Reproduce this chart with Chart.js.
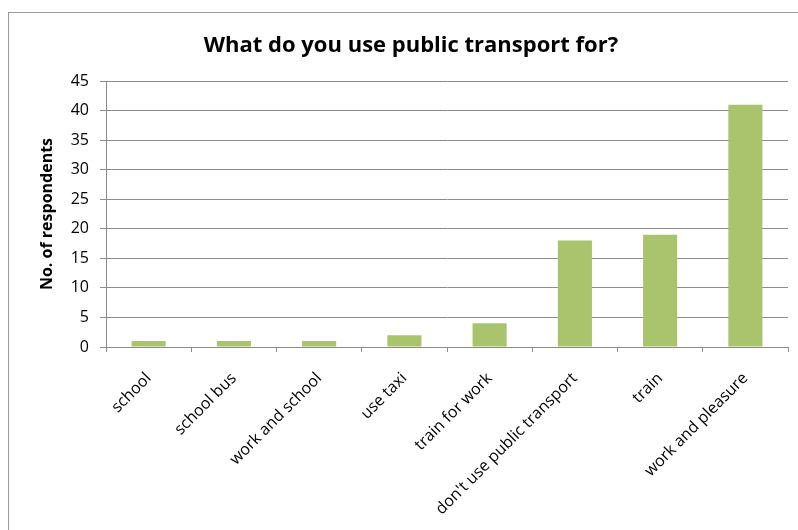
<!DOCTYPE html>
<html>
<head>
<meta charset="utf-8">
<script src="https://cdn.jsdelivr.net/npm/chart.js@4"></script>
<style>
  html, body { margin: 0; padding: 0; background: #fff; }
  #wrap { position: relative; width: 798px; height: 530px; overflow: hidden; }
  #frame { position: absolute; left: 8px; top: 12px; width: 800px; height: 540px; border: 1px solid #9a9a9a; box-sizing: border-box; }
  canvas { position: absolute; left: 0; top: 0; }
</style>
</head>
<body>
<div id="wrap">
  <div id="frame"></div>
  <canvas id="chart" width="798" height="530"></canvas>
</div>
<script>
// Survey answers: what respondents use public transport for
const categories = [
  'school', 'school bus', 'work and school', 'use taxi',
  'train for work', "don't use public transport", 'train', 'work and pleasure'
];
const respondents = [1, 1, 1, 2, 4, 18, 19, 41];
const yTicks = [0, 5, 10, 15, 20, 25, 30, 35, 40, 45];

const FONT = "'Open Sans', sans-serif";
const GRID = '#8c8c8c';

const ctx = document.getElementById('chart').getContext('2d');
new Chart(ctx, {
  type: 'bar',
  data: {
    labels: categories,
    datasets: [{
      data: respondents,
      backgroundColor: '#a9c46c',
      borderWidth: 0,
      barPercentage: 0.8,
      categoryPercentage: 0.5
    }]
  },
  options: {
    responsive: false,
    animation: false,
    layout: { padding: { left: 34, right: 10, top: 0, bottom: 0 } },
    plugins: {
      legend: { display: false },
      tooltip: { enabled: false },
      title: {
        display: true,
        text: 'What do you use public transport for?',
        color: '#000',
        font: { family: FONT, size: 22, weight: 'bold', lineHeight: 1.2 },
        padding: { top: 32.8, bottom: 21.8 }
      }
    },
    scales: {
      x: {
        grid: { display: true, drawOnChartArea: false, color: GRID, tickLength: 5, offset: true },
        border: { color: GRID, width: 1 },
        ticks: {
          color: '#000',
          font: { family: FONT, size: 16 },
          minRotation: 45,
          maxRotation: 45,
          padding: 17
        },
        afterFit: (scale) => { scale.height = 530 - 347; }
      },
      y: {
        min: 0,
        max: 45,
        afterBuildTicks: (scale) => { scale.ticks = yTicks.map(v => ({ value: v })); },
        grid: { color: GRID, tickLength: 6 },
        border: { color: GRID, width: 1 },
        ticks: {
          color: '#000',
          font: { family: FONT, size: 16 },
          padding: 11
        },
        title: {
          display: true,
          text: 'No. of respondents',
          color: '#000',
          font: { family: FONT, size: 16, weight: 'bold', lineHeight: 1.2 },
          padding: { top: 3.4, bottom: 0 }
        },
        afterFit: (scale) => { scale.width = 106 - 34; }
      }
    }
  }
});
</script>
</body>
</html>
